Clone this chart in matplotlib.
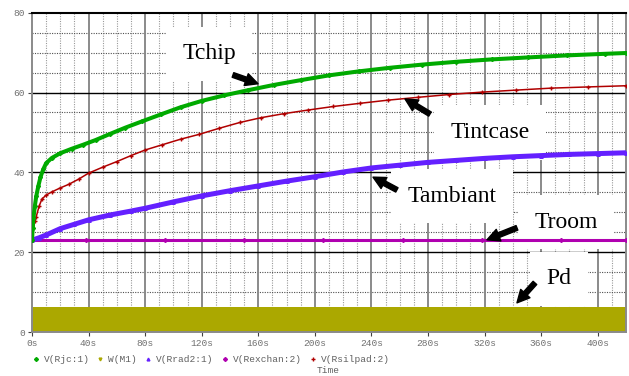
import matplotlib
matplotlib.use('Agg')
import numpy as np
from matplotlib import pyplot as plt
from matplotlib.lines import Line2D

# Thermal transient, PSpice style (temperatures in degC, time in s)
tchipTime = [0, 0.5, 1, 2, 3, 4.5, 6, 8, 10, 14, 20, 28, 36, 45, 55, 66, 78, 91,
             105, 120, 136, 153, 171, 190, 210, 231, 253, 276, 300, 325, 351, 378, 405, 420]
tchip = [23, 26, 28.5, 31.5, 34, 36.6, 38.8, 40.8, 42.3, 43.6, 44.8, 45.9, 46.9, 48.1,
         49.6, 51.2, 52.8, 54.5, 56.3, 57.9, 59.3, 60.6, 61.9, 63.1, 64.3, 65.3, 66.2,
         67.0, 67.7, 68.3, 68.8, 69.3, 69.7, 69.9]

tcaseTime = [0, 1, 2, 3, 5, 7, 10, 14, 20, 26, 33, 40, 50, 60, 70, 80, 92, 105, 118,
             132, 147, 162, 178, 195, 213, 232, 252, 273, 295, 318, 342, 367, 393, 420]
tcase = [23, 26, 27.8, 28.9, 31.5, 33.3, 34.3, 35.1, 36.1, 37.0, 38.3, 39.8, 41.3,
         42.7, 44.2, 45.6, 46.9, 48.3, 49.5, 51.0, 52.5, 53.7, 54.7, 55.6, 56.5, 57.3,
         58.1, 58.8, 59.5, 60.1, 60.6, 61.1, 61.4, 61.7]

tambTime = [0, 5, 10, 20, 30, 40, 55, 70, 80, 100, 120, 140, 160, 180, 200, 220, 240,
            260, 280, 300, 320, 340, 360, 380, 400, 420]
tamb = [23, 23.6, 24.3, 25.9, 27.0, 28.1, 29.3, 30.3, 31.0, 32.6, 34.1, 35.4, 36.6,
        37.8, 38.9, 40.1, 41.1, 41.8, 42.5, 43.0, 43.5, 43.9, 44.2, 44.5, 44.7, 44.9]

troomTime = [0, 38, 94, 150, 206, 262, 318, 374, 420]
troom = [23, 23, 23, 23, 23, 23, 23, 23, 23]

pdTime = [0, 420]
pd = [6.2, 6.2]

xTicks = [0, 40, 80, 120, 160, 200, 240, 280, 320, 360, 400]
xTickLabels = ['{}s'.format(t) for t in xTicks]
yTicks = [0, 20, 40, 60, 80]

legendNames = ['V(Rjc:1)', 'W(M1)', 'V(Rrad2:1)', 'V(Rexchan:2)', 'V(Rsilpad:2)']

green = '#00aa00'
olive = '#aba800'
blue = '#6420ff'
purple = '#b000b0'
red = '#b00000'
mono = 'Liberation Mono'
serif = 'Liberation Serif'

fig = plt.figure(figsize=(6.29, 3.76), dpi=100)
ax = fig.add_axes([32/629, 1-332/376, (626-32)/629, (332-12.7)/376])
ax.set_xlim(0, 420)
ax.set_ylim(0, 80)

# grid: dotted minor, solid major
for x in np.arange(10, 420, 10):
    if x % 40:
        ax.axvline(x, color='#9a9a9a', lw=0.8, ls=(0, (1, 1.2)), zorder=0.5)
for y in np.arange(5, 80, 5):
    if y % 20:
        ax.axhline(y, color='#505050', lw=0.8, ls=(0, (1, 1.2)), zorder=0.5)
for x in xTicks[1:]:
    ax.axvline(x, color='#8a8a8a', lw=1.4, zorder=0.6)
for y in yTicks[1:-1]:
    ax.axhline(y, color='black', lw=1.0, zorder=0.6)

ax.spines['top'].set_color('black')
ax.spines['top'].set_linewidth(1.5)
for s in ['left', 'right', 'bottom']:
    ax.spines[s].set_color('#8a8a8a')
    ax.spines[s].set_linewidth(1.4)

ax.fill_between(pdTime, 0, pd, color=olive, lw=0, zorder=2)
ax.plot(troomTime, troom, color=purple, lw=2.2, marker='D', ms=2, zorder=3)
ax.plot(tambTime, tamb, color=blue, lw=3.6, marker='^', ms=2.5, zorder=3)
ax.plot(tcaseTime, tcase, color=red, lw=1.1, marker='+', ms=3.2, mew=1.0, zorder=3)
ax.plot(tchipTime, tchip, color=green, lw=2.9, marker='D', ms=2, zorder=3)

ax.set_xticks(xTicks)
ax.set_xticklabels(xTickLabels)
ax.set_yticks(yTicks)
ax.tick_params(length=3, width=0.8, color='#404040', labelsize=6.8,
               labelcolor='#707070', pad=2)
for lbl in ax.get_xticklabels() + ax.get_yticklabels():
    lbl.set_family(mono)

# labels with white boxes hiding the grid
labels = [('Tchip', 125.1, 68.3), ('Tintcase', 323.8, 48.6), ('Tambiant', 296.9, 32.6),
          ('Troom', 377.5, 26.1), ('Pd', 372.6, 12.0)]
for text, x, y in labels:
    ax.text(x, y, text, ha='center', va='baseline', family=serif, fontsize=17,
            bbox=dict(boxstyle='square,pad=0.7', fc='white', ec='none'), zorder=1)

arrows = [((142.1, 64.4), (159.8, 62.2)), ((281.4, 54.6), (263.7, 58.4)),
          ((258.0, 35.6), (241.1, 38.8)), ((342.9, 26.1), (321.7, 23.1)),
          ((355.6, 12.3), (342.9, 7.3))]
for tail, head in arrows:
    ax.annotate('', xy=head, xytext=tail, zorder=5,
                arrowprops=dict(arrowstyle='simple,head_length=0.9,head_width=0.9,tail_width=0.35',
                                mutation_scale=10, fc='black', ec='black',
                                shrinkA=0, shrinkB=0))

# legend row under the axis
legendMarkers = [('D', green), ('v', olive), ('^', blue), ('D', purple), ('+', red)]
markerX = [36, 100, 148, 225, 313]
ly = 1 - 359/376
for (m, c), mx, name in zip(legendMarkers, markerX, legendNames):
    fig.add_artist(Line2D([mx/629], [ly], transform=fig.transFigure, marker=m,
                          color=c, ms=2 if m != '+' else 3.2, mew=1.0, ls='none'))
    fig.text((mx + 8)/629, ly, name, family=mono, fontsize=6.8, color='#606060',
             va='center', ha='left')
fig.text(328/629, 0.003, 'Time', family=mono, fontsize=6.8, color='#606060',
         va='bottom', ha='center')

fig.savefig('out.png', dpi=100)
